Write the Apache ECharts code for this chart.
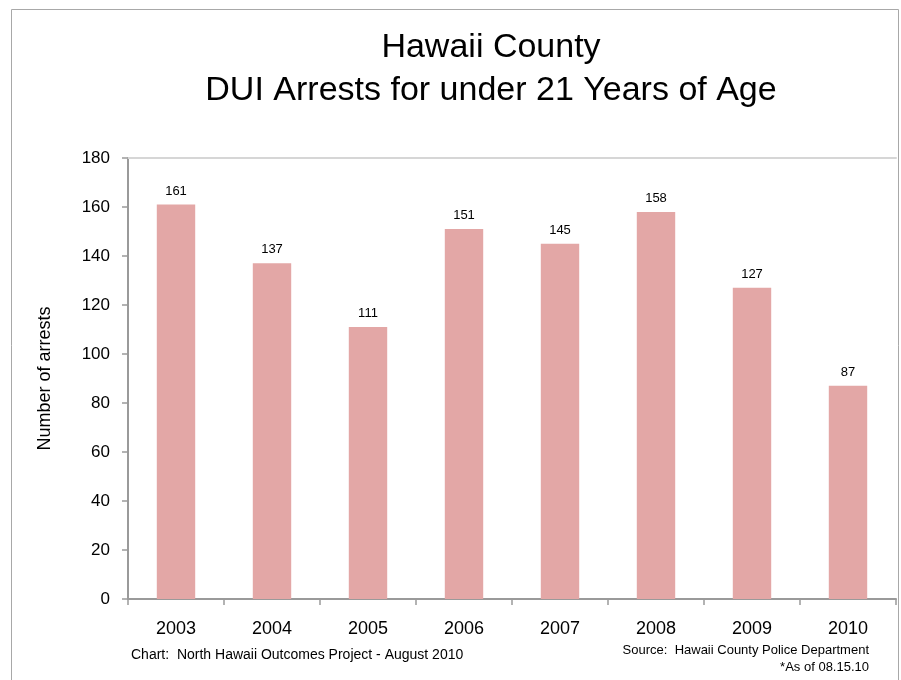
<!DOCTYPE html>
<html>
<head>
<meta charset="utf-8">
<script src="https://cdn.jsdelivr.net/npm/echarts@6/dist/echarts.min.js"></script>
<style>html,body{margin:0;padding:0;background:#fff}#c{width:901px;height:680px}</style>
</head>
<body>
<div id="c"></div>
<script>
var years = ['2003','2004','2005','2006','2007','2008','2009','2010'];
var arrests = [161, 137, 111, 151, 145, 158, 127, 87];
var chart = echarts.init(document.getElementById('c'), null, {renderer:'canvas'});
var F = 'Liberation Sans, Arial, sans-serif';
chart.setOption({
  animation: false,
  backgroundColor: '#fff',
  textStyle: {fontFamily: F},
  title: [
    {text: 'Hawaii County\nDUI Arrests for under 21 Years of Age', left: 491, top: 26, padding: 0, textAlign: 'center',
     textStyle: {fontFamily: F, fontSize: 34, fontWeight: 'normal', color: '#000', lineHeight: 43}},
    {text: 'Chart:  North Hawaii Outcomes Project - August 2010', left: 131, top: 648, padding: 0,
     textStyle: {fontFamily: F, fontSize: 14, fontWeight: 'normal', color: '#000'}},
    {text: 'Source:  Hawaii County Police Department\n*As of 08.15.10', left: 869, top: 642, padding: 0, textAlign: 'right',
     textStyle: {fontFamily: F, fontSize: 13, fontWeight: 'normal', color: '#000', lineHeight: 17, align: 'right'}}
  ],
  graphic: [{type: 'rect', shape: {x: 11.5, y: 9.5, width: 887, height: 720}, style: {fill: 'none', stroke: '#a8a8a8', lineWidth: 1}, silent: true}],
  grid: {left: 128, right: 5, top: 158, bottom: 81},
  xAxis: [{
    type: 'category', data: years, position: 'bottom',
    axisLine: {lineStyle: {color: '#9a9a9a', width: 2}},
    axisTick: {show: true, alignWithLabel: false, length: 6, lineStyle: {color: '#9a9a9a', width: 1.5}},
    axisLabel: {color: '#000', fontSize: 18, margin: 21, fontFamily: F}
  }, {
    type: 'category', data: years, position: 'top',
    axisLine: {show: true, lineStyle: {color: '#d6d6d6', width: 2}},
    axisTick: {show: false}, axisLabel: {show: false}
  }],
  yAxis: {
    type: 'value', min: 0, max: 180, interval: 20,
    name: 'Number of arrests', nameLocation: 'middle', nameGap: 74, nameRotate: 90,
    nameTextStyle: {color: '#000', fontSize: 18, fontFamily: F},
    axisLine: {show: true, lineStyle: {color: '#9a9a9a', width: 2}},
    axisTick: {show: true, length: 6, lineStyle: {color: '#9a9a9a', width: 1.5}},
    axisLabel: {color: '#000', fontSize: 17, margin: 18, fontFamily: F},
    splitLine: {show: false}
  },
  series: [{
    type: 'bar', data: arrests, barWidth: '40%',
    itemStyle: {color: '#e3a7a6'},
    label: {show: true, position: 'top', distance: 7, color: '#000', fontSize: 13, fontFamily: F}
  }]
});
</script>
</body>
</html>
